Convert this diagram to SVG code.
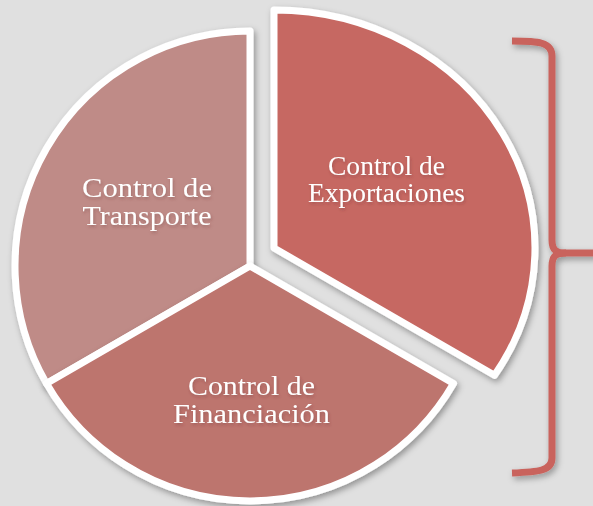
<svg xmlns="http://www.w3.org/2000/svg" width="593" height="506" viewBox="0 0 593 506">
<defs>
<filter id="sh" x="-10%" y="-10%" width="130%" height="130%">
<feDropShadow dx="2" dy="3" stdDeviation="3" flood-color="#000" flood-opacity="0.35"/>
</filter>
<filter id="tsh" x="-10%" y="-20%" width="130%" height="150%">
<feDropShadow dx="1" dy="2" stdDeviation="1.5" flood-color="#5a2a28" flood-opacity="0.3"/>
</filter>
<style>
.slice{stroke:#ffffff;stroke-width:7;stroke-linejoin:round}
.lbl{font-family:"Liberation Serif","Times New Roman",serif;font-size:27px;fill:#ffffff;text-anchor:middle}
.brace{fill:none;stroke:#c9635d;stroke-width:7;stroke-linecap:butt;stroke-linejoin:round}
</style>
</defs>
<rect width="593" height="506" fill="#e0e0e0"/>
<g id="transporte" filter="url(#sh)">
<path class="slice" fill="#bf8b87" d="M250,266 L250,31 A235,235 0 0 0 46.5,383.5 Z"/>
<g filter="url(#tsh)">
<text class="lbl" x="147" y="197" textLength="130" lengthAdjust="spacingAndGlyphs">Control de</text>
<text class="lbl" x="147" y="225" textLength="129" lengthAdjust="spacingAndGlyphs">Transporte</text>
</g>
</g>
<g id="financiacion" filter="url(#sh)">
<path class="slice" fill="#bd746e" d="M250,266 L46.5,383.5 A235,235 0 0 0 453.5,383.5 Z"/>
<g filter="url(#tsh)">
<text class="lbl" x="251.5" y="395" textLength="127" lengthAdjust="spacingAndGlyphs">Control de</text>
<text class="lbl" x="251.5" y="423" textLength="157" lengthAdjust="spacingAndGlyphs">Financiación</text>
</g>
</g>
<g id="exportaciones" filter="url(#sh)">
<path class="slice" fill="#c66862" d="M274,248 L274,10 A261,238 0 0 1 494.5,375.3 Z"/>
<g filter="url(#tsh)">
<text class="lbl" x="386.5" y="175" textLength="117" lengthAdjust="spacingAndGlyphs">Control de</text>
<text class="lbl" x="386.5" y="202" textLength="157" lengthAdjust="spacingAndGlyphs">Exportaciones</text>
</g>
</g>
<g id="connectors" filter="url(#sh)">
<path class="brace" d="M512,41 C538,41 552,42 552,56 L552,240 C552,250 556,253 566,253 L596,253"/>
<path class="brace" d="M512,473 C538,472 552,471 552,458 L552,266 C552,256 556,253 566,253"/>
</g>
</svg>
